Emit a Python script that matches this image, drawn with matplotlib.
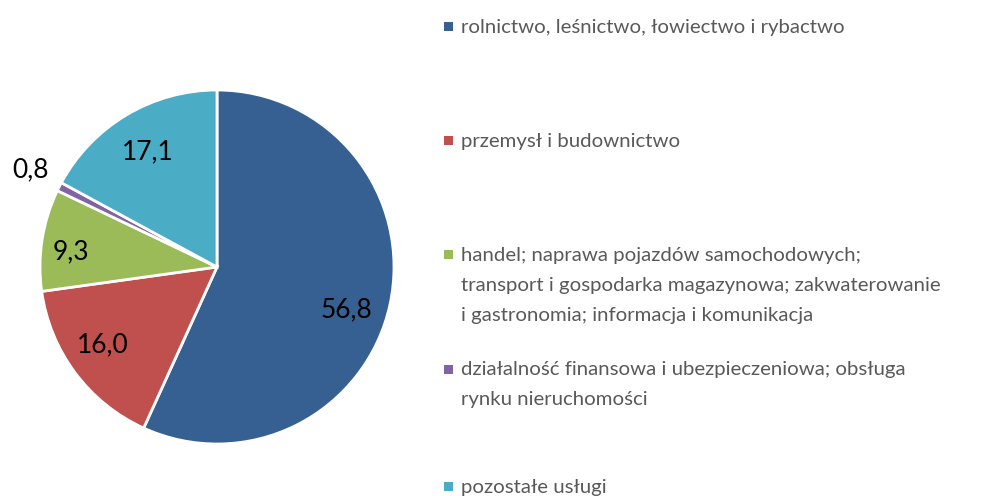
import matplotlib.pyplot as plt
from matplotlib.patches import Rectangle

plt.rcParams['font.family'] = ['Lato', 'DejaVu Sans']

# Data
categories = [
    'rolnictwo, leśnictwo, łowiectwo i rybactwo',
    'przemysł i budownictwo',
    'handel; naprawa pojazdów samochodowych;\ntransport i gospodarka magazynowa; zakwaterowanie\ni gastronomia; informacja i komunikacja',
    'działalność finansowa i ubezpieczeniowa; obsługa\nrynku nieruchomości',
    'pozostałe usługi',
]
values = [56.8, 16.0, 9.3, 0.8, 17.1]
value_labels = ['56,8', '16,0', '9,3', '0,8', '17,1']
colors = ['#376092', '#C0504D', '#9BBB59', '#8064A2', '#4BACC6']

fig = plt.figure(figsize=(9.9, 4.96), dpi=100)
ax = fig.add_axes([40 / 990, 52 / 496, 354 / 990, 354 / 496])

ax.pie(values, colors=colors, startangle=90, counterclock=False, radius=1,
       wedgeprops=dict(edgecolor='white', linewidth=2))
ax.set_xlim(-1, 1)
ax.set_ylim(-1, 1)
ax.set_aspect('equal')
ax.axis('off')

# label positions (Excel "best fit")
label_pos = [(0.729, -0.243), (-0.644, -0.441), (-0.825, 0.085),
             (-1.056, 0.548), (-0.393, 0.650)]
for (x, y), lab in zip(label_pos, value_labels):
    ax.text(x, y, lab, ha='center', va='center', fontsize=19, color='black')

# legend drawn by hand, one text per line
legend_y = [27, 141, 255, 370, 487]
line_step = 30
for y, cat, col in zip(legend_y, categories, colors):
    fig.add_artist(Rectangle((444 / 990, 1 - (y + 4) / 496), 9 / 990, 9 / 496,
                             transform=fig.transFigure, facecolor=col,
                             edgecolor='none'))
    for i, line in enumerate(cat.split('\n')):
        fig.text(461 / 990, 1 - (y + i * line_step) / 496, line,
                 ha='left', va='center', fontsize=14.7, color='#595959')

plt.savefig('out.png', dpi=100)
